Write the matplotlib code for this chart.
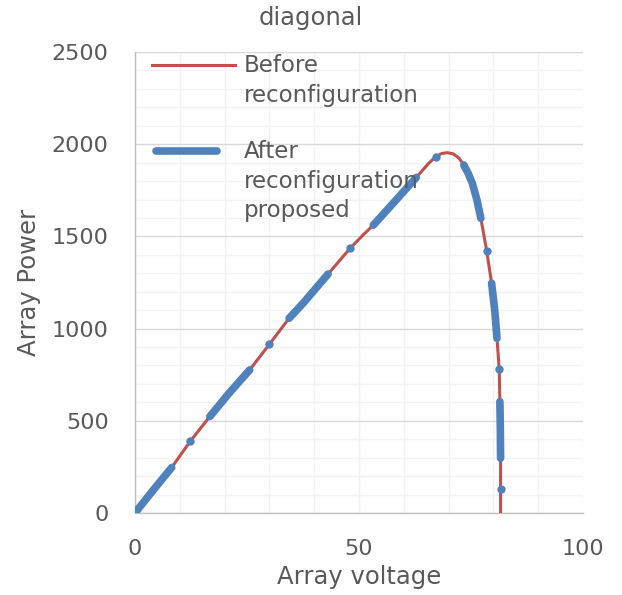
import numpy as np
import matplotlib
matplotlib.use("Agg")
import matplotlib.pyplot as plt
from matplotlib.ticker import MultipleLocator

# P-V curve before reconfiguration
before_v = [0, 4, 8.2, 12.3, 16.7, 21, 25.6, 30, 34.4, 37.5, 43.1, 48, 51, 53.2,
            58, 62.8, 65.5, 67.1, 68.5, 69.7, 71, 72.3, 73.4, 74.4, 75.3, 76.3,
            77.2, 78.5, 79.6, 80.3, 80.8, 81.3, 81.45, 81.55, 81.6, 81.6, 81.6]
before_p = [0, 122, 247, 388, 523, 650, 776, 915, 1056, 1137, 1296, 1435, 1510, 1561,
            1690, 1820, 1895, 1932, 1950, 1954, 1948, 1925, 1887, 1840, 1788, 1700,
            1598, 1422, 1246, 1100, 947, 779, 604, 450, 297, 128, 0]

# operating points after the proposed reconfiguration (nan = gap)
nan = np.nan
after_v = [0, 4, 8.2, nan, 12.3, nan, 16.7, 21, 25.6, nan, 30, nan,
           34.4, 37.5, 43.1, nan, 48, nan, 53.2, 58, 62.8, nan, 67.1, nan,
           73.4, 74.4, 75.3, 76.3, 77.2, nan, 78.5, nan, 79.6, 80.3, 80.8, nan,
           81.3, nan, 81.45, 81.55, 81.6, nan, 81.6]
after_p = [0, 122, 247, nan, 388, nan, 523, 650, 776, nan, 915, nan,
           1056, 1137, 1296, nan, 1435, nan, 1561, 1690, 1820, nan, 1932, nan,
           1887, 1840, 1788, 1700, 1598, nan, 1422, nan, 1246, 1100, 947, nan,
           779, nan, 604, 450, 297, nan, 128]

labels = ["Before\nreconfiguration", "After\nreconfiguration\nproposed"]

red = "#C0504D"
blue = "#4F81BD"
txt = "#595959"

plt.rcParams["font.family"] = "DejaVu Sans"

fig = plt.figure(figsize=(6.22, 5.95), dpi=100)
ax = fig.add_axes([135 / 622, 82 / 595, 448 / 622, 461 / 595])

ax.plot(before_v, before_p, color=red, lw=2.2, zorder=3)
ax.plot(after_v, after_p, color=blue, lw=5.5,
        solid_capstyle="round", solid_joinstyle="round", zorder=4)

# points with a gap on both sides would be invisible as a line -> dots
av = np.array(after_v)
ap = np.array(after_p)
pad_v = np.concatenate([[nan], av, [nan]])
lone = ~np.isnan(av) & np.isnan(pad_v[:-2]) & np.isnan(pad_v[2:])
ax.plot(av[lone], ap[lone], "o", color=blue, ms=6, mew=0, zorder=4)

ax.set_xlim(0, 100)
ax.set_ylim(0, 2500)
ax.xaxis.set_major_locator(MultipleLocator(50))
ax.xaxis.set_minor_locator(MultipleLocator(10))
ax.yaxis.set_major_locator(MultipleLocator(500))
ax.yaxis.set_minor_locator(MultipleLocator(100))
ax.grid(which="minor", color="#F2F2F2", lw=1)
ax.grid(which="major", axis="y", color="#D9D9D9", lw=1)
ax.grid(which="major", axis="x", color="#F2F2F2", lw=1)
ax.set_axisbelow(True)

for s in ["top", "right"]:
    ax.spines[s].set_visible(False)
for s in ["left", "bottom"]:
    ax.spines[s].set_color("#BFBFBF")
    ax.spines[s].set_linewidth(1)

ax.tick_params(which="both", length=0, labelsize=16, labelcolor=txt)
ax.tick_params(axis="x", pad=19)
ax.tick_params(axis="y", pad=19)

ax.set_xlabel("Array voltage", fontsize=17.5, color=txt, labelpad=4)
ax.set_ylabel("Array Power", fontsize=17.5, color=txt, labelpad=8)
fig.text(0.5, 1 - 18 / 595, "diagonal", fontsize=17.5, color=txt,
         ha="center", va="center")

# legend drawn by hand so the sample lines up with the first text line
ax.plot([0.038, 0.224], [0.972, 0.972], transform=ax.transAxes, color=red,
        lw=2.2, clip_on=False, zorder=5)
ax.plot([0.046, 0.183], [0.785, 0.785], transform=ax.transAxes, color=blue,
        lw=5.5, solid_capstyle="round", clip_on=False, zorder=5)
ax.text(0.242, 0.939, labels[0], transform=ax.transAxes, fontsize=16.5,
        color=txt, va="center", ha="left", linespacing=1.38, zorder=6)
ax.text(0.242, 0.720, labels[1], transform=ax.transAxes, fontsize=16.5,
        color=txt, va="center", ha="left", linespacing=1.38, zorder=6)

fig.savefig("out.png", dpi=100)
